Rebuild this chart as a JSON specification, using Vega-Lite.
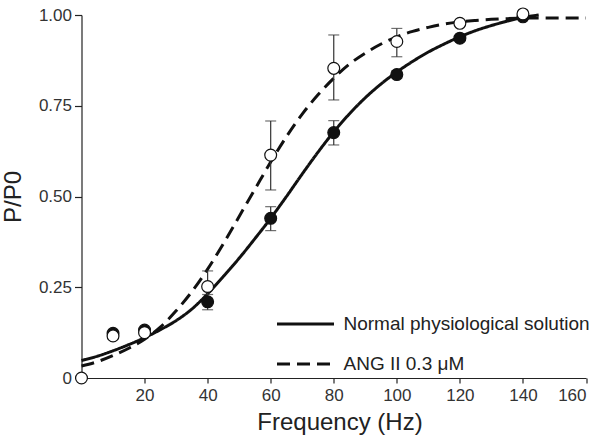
{
  "$schema": "https://vega.github.io/schema/vega-lite/v6.json",
  "width": 504.5,
  "height": 363,
  "autosize": "none",
  "padding": {"left": 81.5, "top": 15, "right": 19, "bottom": 62},
  "background": "white",
  "config": {
    "view": {"stroke": null},
    "axis": {
      "grid": false,
      "domainColor": "#222",
      "domainWidth": 1.2,
      "tickColor": "#222",
      "tickWidth": 1.2,
      "labelColor": "#333",
      "labelFont": "Liberation Sans",
      "labelFontSize": 17,
      "titleFont": "Liberation Sans",
      "titleFontSize": 24,
      "titleFontWeight": "normal",
      "titleColor": "#222"
    },
    "legend": {
      "labelFont": "Liberation Sans",
      "labelFontSize": 19,
      "labelColor": "#222",
      "labelLimit": 400
    }
  },
  "datasets": {
    "curves": [
      {"freq": 0, "ratio": 0.048, "series": "Normal physiological solution"},
      {"freq": 5, "ratio": 0.06, "series": "Normal physiological solution"},
      {"freq": 10, "ratio": 0.075, "series": "Normal physiological solution"},
      {"freq": 15, "ratio": 0.092, "series": "Normal physiological solution"},
      {"freq": 20, "ratio": 0.111, "series": "Normal physiological solution"},
      {"freq": 25, "ratio": 0.133, "series": "Normal physiological solution"},
      {"freq": 30, "ratio": 0.158, "series": "Normal physiological solution"},
      {"freq": 35, "ratio": 0.19, "series": "Normal physiological solution"},
      {"freq": 40, "ratio": 0.232, "series": "Normal physiological solution"},
      {"freq": 45, "ratio": 0.28, "series": "Normal physiological solution"},
      {"freq": 50, "ratio": 0.33, "series": "Normal physiological solution"},
      {"freq": 55, "ratio": 0.384, "series": "Normal physiological solution"},
      {"freq": 60, "ratio": 0.44, "series": "Normal physiological solution"},
      {"freq": 65, "ratio": 0.5, "series": "Normal physiological solution"},
      {"freq": 70, "ratio": 0.562, "series": "Normal physiological solution"},
      {"freq": 75, "ratio": 0.622, "series": "Normal physiological solution"},
      {"freq": 80, "ratio": 0.678, "series": "Normal physiological solution"},
      {"freq": 85, "ratio": 0.728, "series": "Normal physiological solution"},
      {"freq": 90, "ratio": 0.772, "series": "Normal physiological solution"},
      {"freq": 95, "ratio": 0.81, "series": "Normal physiological solution"},
      {"freq": 100, "ratio": 0.843, "series": "Normal physiological solution"},
      {"freq": 105, "ratio": 0.872, "series": "Normal physiological solution"},
      {"freq": 110, "ratio": 0.898, "series": "Normal physiological solution"},
      {"freq": 115, "ratio": 0.92, "series": "Normal physiological solution"},
      {"freq": 120, "ratio": 0.94, "series": "Normal physiological solution"},
      {"freq": 125, "ratio": 0.957, "series": "Normal physiological solution"},
      {"freq": 130, "ratio": 0.971, "series": "Normal physiological solution"},
      {"freq": 135, "ratio": 0.983, "series": "Normal physiological solution"},
      {"freq": 140, "ratio": 0.993, "series": "Normal physiological solution"},
      {"freq": 145, "ratio": 1.0, "series": "Normal physiological solution"},
      {"freq": 0, "ratio": 0.033, "series": "ANG II 0.3 μM"},
      {"freq": 5, "ratio": 0.045, "series": "ANG II 0.3 μM"},
      {"freq": 10, "ratio": 0.062, "series": "ANG II 0.3 μM"},
      {"freq": 15, "ratio": 0.082, "series": "ANG II 0.3 μM"},
      {"freq": 20, "ratio": 0.107, "series": "ANG II 0.3 μM"},
      {"freq": 25, "ratio": 0.14, "series": "ANG II 0.3 μM"},
      {"freq": 30, "ratio": 0.185, "series": "ANG II 0.3 μM"},
      {"freq": 35, "ratio": 0.238, "series": "ANG II 0.3 μM"},
      {"freq": 40, "ratio": 0.3, "series": "ANG II 0.3 μM"},
      {"freq": 45, "ratio": 0.37, "series": "ANG II 0.3 μM"},
      {"freq": 50, "ratio": 0.445, "series": "ANG II 0.3 μM"},
      {"freq": 55, "ratio": 0.52, "series": "ANG II 0.3 μM"},
      {"freq": 60, "ratio": 0.595, "series": "ANG II 0.3 μM"},
      {"freq": 65, "ratio": 0.665, "series": "ANG II 0.3 μM"},
      {"freq": 70, "ratio": 0.727, "series": "ANG II 0.3 μM"},
      {"freq": 75, "ratio": 0.78, "series": "ANG II 0.3 μM"},
      {"freq": 80, "ratio": 0.826, "series": "ANG II 0.3 μM"},
      {"freq": 85, "ratio": 0.865, "series": "ANG II 0.3 μM"},
      {"freq": 90, "ratio": 0.895, "series": "ANG II 0.3 μM"},
      {"freq": 95, "ratio": 0.92, "series": "ANG II 0.3 μM"},
      {"freq": 100, "ratio": 0.94, "series": "ANG II 0.3 μM"},
      {"freq": 105, "ratio": 0.955, "series": "ANG II 0.3 μM"},
      {"freq": 110, "ratio": 0.966, "series": "ANG II 0.3 μM"},
      {"freq": 115, "ratio": 0.975, "series": "ANG II 0.3 μM"},
      {"freq": 120, "ratio": 0.981, "series": "ANG II 0.3 μM"},
      {"freq": 125, "ratio": 0.985, "series": "ANG II 0.3 μM"},
      {"freq": 130, "ratio": 0.988, "series": "ANG II 0.3 μM"},
      {"freq": 135, "ratio": 0.99, "series": "ANG II 0.3 μM"},
      {"freq": 140, "ratio": 0.991, "series": "ANG II 0.3 μM"},
      {"freq": 145, "ratio": 0.992, "series": "ANG II 0.3 μM"},
      {"freq": 150, "ratio": 0.992, "series": "ANG II 0.3 μM"},
      {"freq": 155, "ratio": 0.992, "series": "ANG II 0.3 μM"},
      {"freq": 160, "ratio": 0.992, "series": "ANG II 0.3 μM"}
    ],
    "points": [
      {"freq": 10, "ratio": 0.123, "lo": 0.123, "hi": 0.123, "series": "Normal physiological solution"},
      {"freq": 20, "ratio": 0.132, "lo": 0.132, "hi": 0.132, "series": "Normal physiological solution"},
      {"freq": 40, "ratio": 0.21, "lo": 0.188, "hi": 0.23, "series": "Normal physiological solution"},
      {"freq": 60, "ratio": 0.44, "lo": 0.406, "hi": 0.472, "series": "Normal physiological solution"},
      {"freq": 80, "ratio": 0.676, "lo": 0.642, "hi": 0.709, "series": "Normal physiological solution"},
      {"freq": 100, "ratio": 0.836, "lo": 0.826, "hi": 0.846, "series": "Normal physiological solution"},
      {"freq": 120, "ratio": 0.936, "lo": 0.936, "hi": 0.936, "series": "Normal physiological solution"},
      {"freq": 140, "ratio": 0.995, "lo": 0.995, "hi": 0.995, "series": "Normal physiological solution"},
      {"freq": 0, "ratio": 0.0, "lo": 0.0, "hi": 0.0, "series": "ANG II 0.3 μM"},
      {"freq": 10, "ratio": 0.116, "lo": 0.116, "hi": 0.116, "series": "ANG II 0.3 μM"},
      {"freq": 20, "ratio": 0.125, "lo": 0.125, "hi": 0.125, "series": "ANG II 0.3 μM"},
      {"freq": 40, "ratio": 0.252, "lo": 0.21, "hi": 0.295, "series": "ANG II 0.3 μM"},
      {"freq": 60, "ratio": 0.614, "lo": 0.518, "hi": 0.708, "series": "ANG II 0.3 μM"},
      {"freq": 80, "ratio": 0.853, "lo": 0.766, "hi": 0.945, "series": "ANG II 0.3 μM"},
      {"freq": 100, "ratio": 0.927, "lo": 0.885, "hi": 0.963, "series": "ANG II 0.3 μM"},
      {"freq": 120, "ratio": 0.977, "lo": 0.977, "hi": 0.977, "series": "ANG II 0.3 μM"},
      {"freq": 140, "ratio": 1.003, "lo": 1.003, "hi": 1.003, "series": "ANG II 0.3 μM"}
    ]
  },
  "layer": [
    {
      "data": {"name": "curves"},
      "mark": {"type": "line", "strokeWidth": 3, "color": "#111", "interpolate": "monotone"},
      "encoding": {
        "x": {
          "field": "freq", "type": "quantitative",
          "scale": {"domain": [0, 160], "nice": false},
          "axis": {
            "title": "Frequency (Hz)",
            "values": [0, 20, 40, 60, 80, 100, 120, 140, 160],
            "labelExpr": "datum.value == 0 ? '' : datum.label",
            "tickSize": 5,
            "labelPadding": 4,
            "titlePadding": 7,
            "titleX": 258
          }
        },
        "y": {
          "field": "ratio", "type": "quantitative",
          "scale": {"domain": [0, 1], "nice": false},
          "axis": {
            "title": "P/P0",
            "values": [0, 0.25, 0.5, 0.75, 1],
            "labelExpr": "datum.value == 0 ? '0' : format(datum.value, '.2f')",
            "tickSize": 7,
            "labelPadding": 3,
            "titlePadding": 13
          }
        },
        "strokeDash": {
          "field": "series", "type": "nominal",
          "scale": {
            "domain": ["Normal physiological solution", "ANG II 0.3 μM"],
            "range": [[1, 0], [13, 7]]
          },
          "legend": {
            "title": null,
            "orient": "none",
            "legendX": 194,
            "legendY": 279,
            "symbolType": "stroke",
            "symbolSize": 3249,
            "symbolStrokeWidth": 3,
            "symbolStrokeColor": "#111",
            "labelOffset": 8,
            "rowPadding": -17
          }
        }
      }
    },
    {
      "data": {"name": "points"},
      "mark": {"type": "rule", "color": "#333", "strokeWidth": 1.2},
      "encoding": {
        "x": {"field": "freq", "type": "quantitative"},
        "y": {"field": "lo", "type": "quantitative"},
        "y2": {"field": "hi"}
      }
    },
    {
      "data": {"name": "points"},
      "mark": {"type": "tick", "orient": "horizontal", "color": "#333", "thickness": 1.2, "size": 11},
      "encoding": {
        "x": {"field": "freq", "type": "quantitative"},
        "y": {"field": "lo", "type": "quantitative"}
      }
    },
    {
      "data": {"name": "points"},
      "mark": {"type": "tick", "orient": "horizontal", "color": "#333", "thickness": 1.2, "size": 11},
      "encoding": {
        "x": {"field": "freq", "type": "quantitative"},
        "y": {"field": "hi", "type": "quantitative"}
      }
    },
    {
      "data": {"name": "points"},
      "mark": {"type": "point", "filled": true, "size": 140, "stroke": "#111", "strokeWidth": 1.2, "opacity": 1},
      "encoding": {
        "x": {"field": "freq", "type": "quantitative"},
        "y": {"field": "ratio", "type": "quantitative"},
        "fill": {
          "field": "series", "type": "nominal",
          "scale": {"domain": ["Normal physiological solution", "ANG II 0.3 μM"], "range": ["#111", "white"]},
          "legend": null
        }
      }
    }
  ]
}
